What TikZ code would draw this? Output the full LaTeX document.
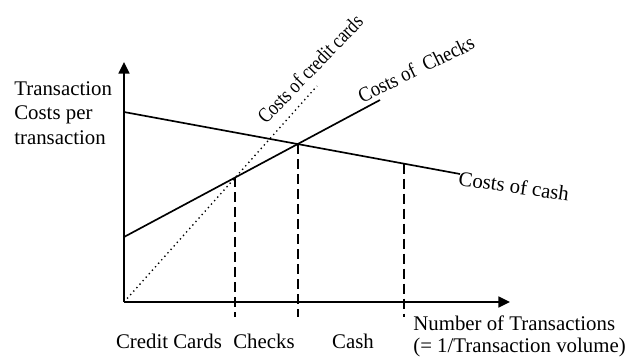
\documentclass[tikz,border=0pt]{standalone}
\usepackage{fontspec}
\setmainfont{Liberation Serif}
\usetikzlibrary{positioning, arrows.meta}

\begin{document}
\begin{tikzpicture}[x=0.6pt, y=0.6pt,
  every node/.style={inner sep=0pt, font=\fontsize{12.5}{14.7}\selectfont},
  axis/.style={-{Triangle[length=7pt, width=6.5pt]}, line width=1.3pt},
  cost/.style={line width=1pt},
  credit/.style={line width=0.8pt, dotted},
  cutoff/.style={line width=1pt, dash pattern=on 6pt off 3pt},
  lbl/.style={align=left, anchor=west}]
\useasboundingbox (0,0) rectangle (639,359);
% axes
\coordinate (origin) at (124,57);
\coordinate (ytip) at (124,297);
\coordinate (xtip) at (510,57);
\coordinate (tickbase) at (0,42);
% cost lines
\coordinate (cashstart) at (124,247);
\coordinate (cashend) at (460,185);
\coordinate (checkstart) at (124,122);
\coordinate (checkend) at (380,259);
\coordinate (creditend) at (317,273);
\draw[cost] (cashstart) -- (cashend);
\draw[cost] (checkstart) -- (checkend);
\draw[credit] (origin) -- (creditend);
% switch points
\coordinate (cc) at (intersection of origin--creditend and checkstart--checkend);
\coordinate (ch) at (intersection of checkstart--checkend and cashstart--cashend);
\coordinate (ca) at (intersection of cashstart--cashend and 404,0--404,300);
\draw[cutoff] (cc) -- (cc |- tickbase);
\draw[cutoff] (ch) -- (ch |- tickbase);
\draw[cutoff] (ca) -- (ca |- tickbase);
\draw[axis] (origin) -- (ytip);
\draw[axis] (origin) -- (xtip);
% labels
\node[lbl] (ylabel) at (14,246) {Transaction\\Costs per\\transaction};
\node[lbl, font=\fontsize{12.5}{13.2}\selectfont] (xlabel) at (413,23)
  {Number of Transactions\\(= 1/Transaction volume)};
\node[rotate=46] (creditlbl) at (310,290) {\scalebox{0.83}[1]{Costs of credit cards}};
\node[rotate=26] (checklbl) at (416,290) {\scalebox{0.9}[1]{Costs of \ Checks}};
\node[rotate=-8] (cashlbl) at (514,173) {Costs of cash};
\node (regcredit) at (169,18) {Credit Cards};
\node (regcheck) at (264,18) {Checks};
\node (regcash) at (353,18) {Cash};
\end{tikzpicture}
\end{document}
